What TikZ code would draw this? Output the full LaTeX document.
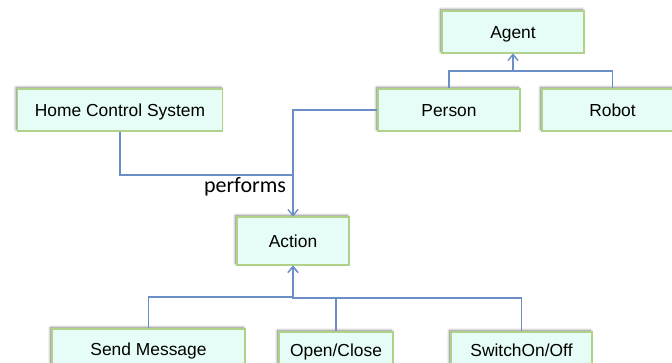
\documentclass[tikz,border=0pt]{standalone}
\usepackage{fontspec}
\setmainfont{Liberation Sans}
\newfontfamily\calfont{Carlito}
\usetikzlibrary{arrows.meta,shadows.blur}
\definecolor{boxfill}{RGB}{229,253,246}
\definecolor{boxedge}{RGB}{176,210,136}
\definecolor{linkblue}{RGB}{108,142,200}
\tikzset{
  box/.style={rectangle, draw=boxedge, line width=1.3pt, fill=boxfill, inner sep=0pt,
    font=\fontsize{17.4}{20}\selectfont, text height=12.5pt, text depth=0pt,
    blur shadow={shadow xshift=-1.5pt, shadow yshift=1.5pt, shadow blur steps=6, shadow blur radius=2.5pt, shadow opacity=50}},
  link/.style={draw=linkblue, line width=1.1pt},
  arr/.style={link, -{Straight Barb[length=6pt,width=10pt,line width=1.1pt]}},
}
\begin{document}
\begin{tikzpicture}[x=1pt,y=-1pt]
\useasboundingbox (0,0) rectangle (672,363);
\clip (0,0) rectangle (672,363);
\node[box, minimum width=142pt, minimum height=42pt] (agent) at (513,32) {Agent};
\node[box, minimum width=142pt, minimum height=42pt] (person) at (449,110) {Person};
\node[box, minimum width=141pt, minimum height=42pt] (robot) at (612.5,110) {Robot};
\node[box, minimum width=205pt, minimum height=42pt] (hcs) at (120,110) {Home Control System};
\node[box, minimum width=112pt, minimum height=48pt] (action) at (293,241) {Action};
\node[box, minimum width=193pt, minimum height=40pt] (send) at (148.5,349) {Send Message};
\node[box, minimum width=114pt, minimum height=36pt] (open) at (336,350) {Open/Close};
\node[box, minimum width=141pt, minimum height=36pt] (switch) at (521.5,350) {SwitchOn/Off};
\coordinate (busA) at (513,71);
\coordinate (joinP) at (293,175);
\coordinate (busL) at (293,297);
\coordinate (busR) at (293,298);
\draw[arr] (person.north) |- (busA) -- (agent.south);
\draw[arr] (robot.north) |- (busA) -- (agent.south);
\draw[arr] (person.west) -| (action.north);
\draw[arr] (hcs.south) |- (joinP) -- (action.north);
\draw[arr] (send.north) |- (busL) -- (action.south);
\draw[arr] (open.north) |- (busR) -- (action.south);
\draw[arr] (switch.north) |- (busR) -- (action.south);
\node[anchor=base, font=\calfont\fontsize{22}{26}\selectfont, inner sep=0pt] (perf) at (245,193) {performs};
\end{tikzpicture}
\end{document}
